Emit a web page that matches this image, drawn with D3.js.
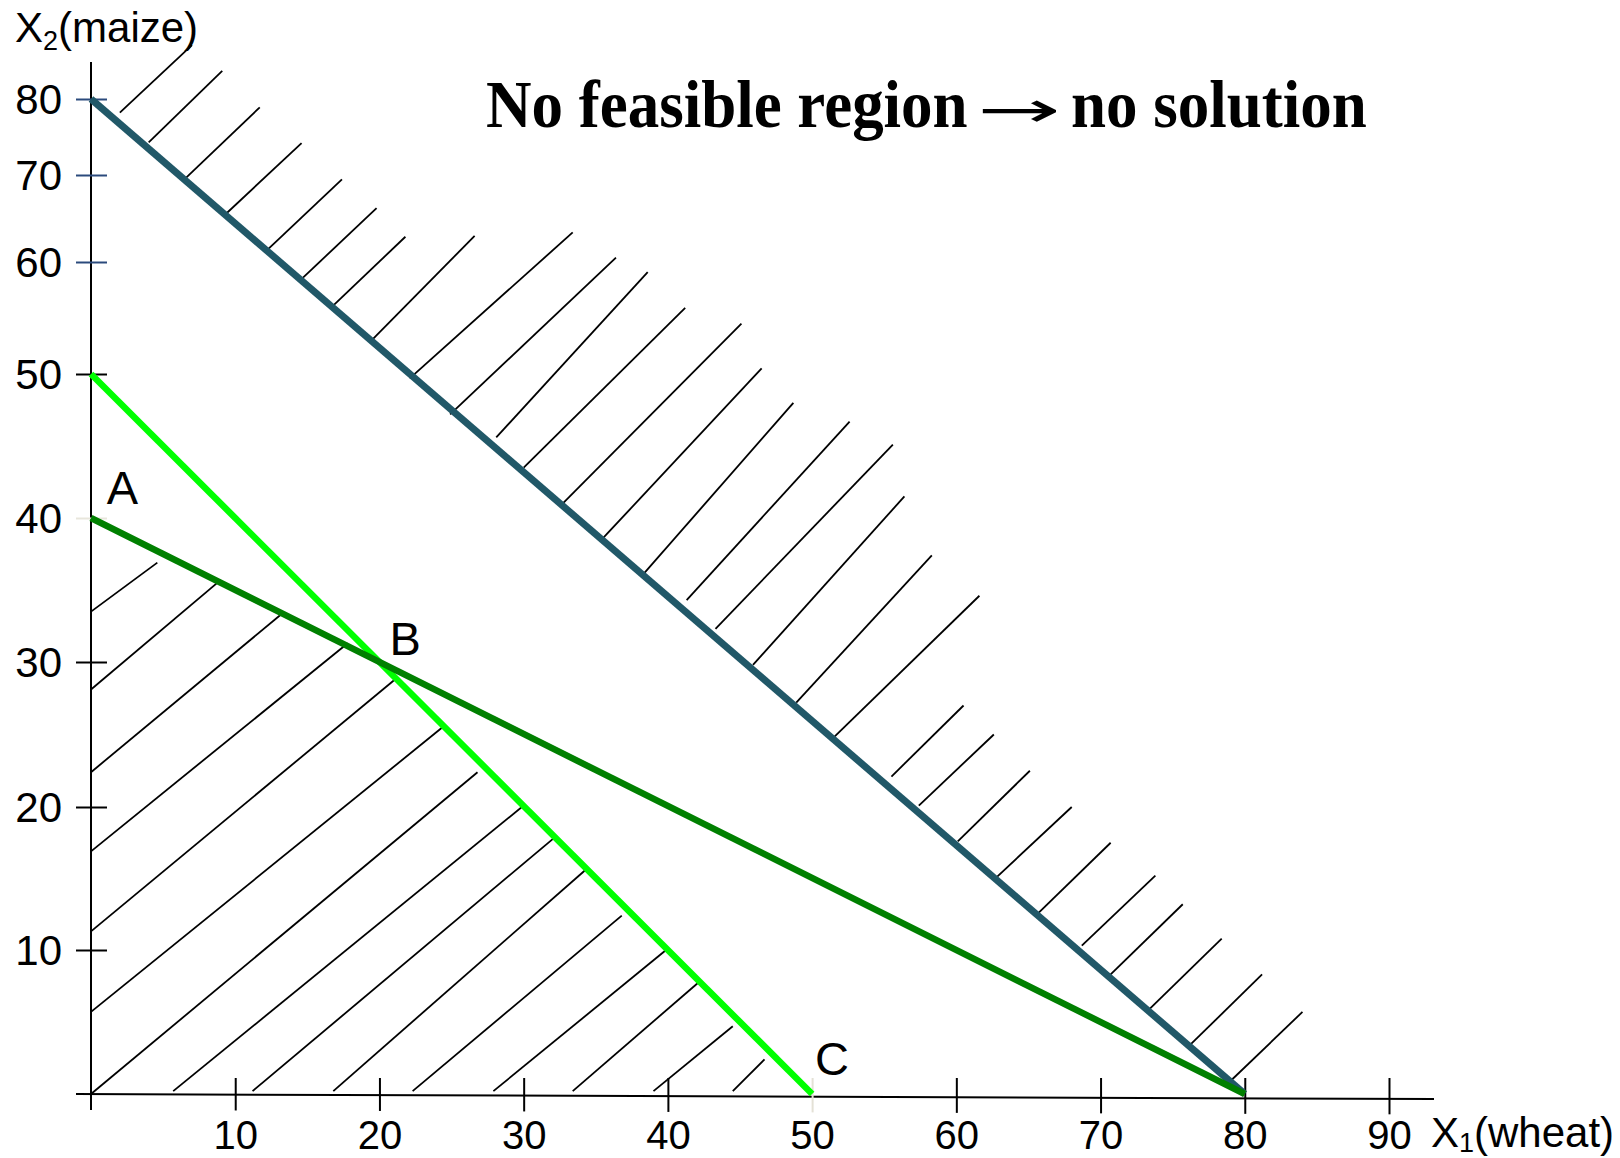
<!DOCTYPE html>
<html>
<head>
<meta charset="utf-8">
<script src="https://cdn.jsdelivr.net/npm/d3@7"></script>
<style>
html, body { margin: 0; padding: 0; background: #ffffff; }
svg { display: block; }
</style>
</head>
<body>
<svg id="chart" width="1620" height="1158"></svg>
<script>
// ---------------- data ----------------
const xTickValues = [10, 20, 30, 40, 50, 60, 70, 80, 90];
const yTickValues = [10, 20, 30, 40, 50, 60, 70, 80];

const titleParts = ["No feasible region", "\u2192", "no solution"];
const xTitleMain = "X", xTitleSub = "1", xTitleRest = "(wheat)";
const yTitleMain = "X", yTitleSub = "2", yTitleRest = "(maize)";

// constraint lines (intercepts on the axes)
const constraintNames = ["x1 + x2 \u2265 80", "x1 + x2 \u2264 50", "x1 + 2x2 \u2264 80"];
const constraintX = [[0, 80], [0, 50], [0, 80]];
const constraintY = [[80, 0], [50, 0], [40, 0]];

// corner-point labels
const pointNames = ["A", "B", "C"];
const pointX = [1.1, 20.7, 50.2];
const pointY = [41.0, 30.5, 1.3];

// hatching above the x1 + x2 >= 80 line (data units)
const upperHatchX1 = [2.0, 4.0, 6.6, 9.4, 12.3, 14.7, 16.7, 19.3, 22.1, 24.9, 28.1, 30.0, 32.7, 35.5, 38.3, 41.3, 43.3, 45.9, 48.9, 51.5, 55.5, 57.4, 60.1, 62.8, 65.7, 68.7, 70.7, 73.3, 76.1, 78.9];
const upperHatchY1 = [78.2, 74.3, 69.7, 65.6, 61.5, 58.6, 56.0, 52.8, 49.7, 47.2, 45.6, 43.5, 41.0, 38.6, 36.1, 34.3, 32.3, 29.8, 27.2, 24.8, 22.1, 20.1, 17.6, 15.1, 12.6, 10.3, 8.3, 5.8, 3.3, 0.8];
const upperHatchX2 = [7.0, 9.1, 11.7, 14.6, 17.4, 19.8, 21.8, 26.6, 33.4, 36.4, 38.6, 41.2, 45.1, 46.5, 48.7, 52.6, 55.6, 56.4, 58.3, 61.6, 60.5, 62.6, 65.1, 68.0, 70.7, 73.8, 75.7, 78.4, 81.2, 84.0];
const upperHatchY2 = [87.1, 83.7, 78.9, 74.2, 69.5, 66.2, 62.9, 63.0, 63.4, 60.5, 59.1, 55.9, 54.5, 50.5, 48.0, 46.7, 45.1, 41.5, 37.4, 34.6, 27.0, 25.0, 22.5, 20.0, 17.5, 15.2, 13.2, 10.8, 8.3, 5.7];

// hatching of the region below both "<=" lines (data units)
const lowerHatchX1 = [0, 0, 0, 0, 0, 0, 0, 5.7, 11.2, 16.8, 22.3, 27.9, 33.4, 39.0, 44.5];
const lowerHatchY1 = [33.5, 28.1, 22.4, 16.9, 11.3, 5.7, 0, 0.2, 0.2, 0.2, 0.2, 0.2, 0.2, 0.2, 0.2];
const lowerHatchX2 = [4.6, 9.0, 13.3, 17.8, 21.2, 24.5, 26.8, 30.0, 32.3, 34.4, 36.8, 40.0, 42.3, 44.5, 46.7];
const lowerHatchY2 = [36.9, 35.7, 33.4, 31.3, 28.9, 25.6, 22.4, 20.1, 18.0, 15.7, 12.4, 10.1, 7.9, 4.7, 2.4];

// ---------------- drawing ----------------
const svg = d3.select("#chart");
svg.append("rect").attr("width", 1620).attr("height", 1158).attr("fill", "#ffffff");

const sansFont = "Arial, 'Liberation Sans', Helvetica, sans-serif";
const serifFont = "'Times New Roman', 'Liberation Serif', serif";

const x = d3.scaleLinear().domain([0, 90]).range([91, 1389]);
// the original axis is hand-spaced: equal steps up to 50, compressed above
const y = d3.scaleLinear()
  .domain([0].concat(yTickValues))
  .range([1094, 950, 807, 662, 518, 374, 262, 175, 99]);

// hatching
const hatchG = svg.append("g").attr("stroke", "#000").attr("stroke-width", 1.8).attr("stroke-linecap", "butt");
hatchG.selectAll("line.up").data(upperHatchX1).join("line")
  .attr("class", "up")
  .attr("x1", (d, i) => x(upperHatchX1[i]))
  .attr("y1", (d, i) => y(upperHatchY1[i]))
  .attr("x2", (d, i) => x(upperHatchX2[i]))
  .attr("y2", (d, i) => y(upperHatchY2[i]));
hatchG.selectAll("line.low").data(lowerHatchX1).join("line")
  .attr("class", "low")
  .attr("x1", (d, i) => x(lowerHatchX1[i]))
  .attr("y1", (d, i) => y(lowerHatchY1[i]))
  .attr("x2", (d, i) => x(lowerHatchX2[i]))
  .attr("y2", (d, i) => y(lowerHatchY2[i]));

// axis lines
const axisG = svg.append("g");
axisG.append("line")
  .attr("x1", x(0)).attr("x2", x(0))
  .attr("y1", y(0) + 16).attr("y2", y(80) - 37)
  .attr("stroke", "#000").attr("stroke-width", 2);
axisG.append("line")
  .attr("x1", x(0) - 15).attr("x2", x(90) + 45)
  .attr("y1", y(0)).attr("y2", y(0) + 5)
  .attr("stroke", "#000").attr("stroke-width", 2);

// tick colours (as in the original slide)
const yTickColor = v => (v >= 60 ? "#2B4A7C" : (v === 40 ? "#E8E6DC" : "#000000"));
const xTickColor = v => (v === 50 ? "#E4E1D6" : "#000000");

// y axis
const yAxis = d3.axisLeft(y).tickValues(yTickValues).tickSizeInner(15).tickSizeOuter(0)
  .tickPadding(14).tickFormat(d3.format("d"));
const gy = svg.append("g").attr("transform", `translate(${x(0)},0)`).call(yAxis);
gy.select(".domain").remove();
gy.attr("font-family", sansFont).attr("font-size", 42);
gy.selectAll(".tick line").attr("x1", 16).attr("stroke", d => yTickColor(d)).attr("stroke-width", 2);
gy.selectAll(".tick text").attr("fill", "#000").attr("dy", "0.35em");

// x axis
const xAxis = d3.axisBottom(x).tickValues(xTickValues).tickSizeInner(16).tickSizeOuter(0)
  .tickPadding(11).tickFormat(d3.format("d"));
const gx = svg.append("g").attr("transform", `translate(0,${y(0)})`).call(xAxis);
gx.select(".domain").remove();
gx.attr("font-family", sansFont).attr("font-size", 40);
gx.selectAll(".tick line").attr("y1", d => -16).attr("y2", d => 16 + (x(d) - x(0)) / 300)
  .attr("stroke", d => xTickColor(d)).attr("stroke-width", 2);
gx.selectAll(".tick text").attr("fill", "#000");

// constraint lines
const lineColors = ["#215868", "#00FF00", "#008000"];
const lineWidths = [7, 6.5, 6.5];
svg.append("g").selectAll("line").data(constraintNames).join("line")
  .attr("x1", (d, i) => x(constraintX[i][0]))
  .attr("y1", (d, i) => y(constraintY[i][0]))
  .attr("x2", (d, i) => x(constraintX[i][1]))
  .attr("y2", (d, i) => y(constraintY[i][1]))
  .attr("stroke", (d, i) => lineColors[i])
  .attr("stroke-width", (d, i) => lineWidths[i])
  .attr("stroke-linecap", "butt");

// point labels
svg.append("g").selectAll("text").data(pointNames).join("text")
  .attr("x", (d, i) => x(pointX[i]))
  .attr("y", (d, i) => y(pointY[i]))
  .attr("font-family", sansFont).attr("font-size", 47).attr("fill", "#000")
  .text(d => d);

// axis titles
const yt = svg.append("text").attr("x", 15).attr("y", 42)
  .attr("font-family", sansFont).attr("font-size", 42).attr("fill", "#000");
yt.append("tspan").text(yTitleMain);
yt.append("tspan").attr("font-size", 27).attr("dy", 8).text(yTitleSub);
yt.append("tspan").attr("dy", -8).text(yTitleRest);

const xt = svg.append("text").attr("x", 1431).attr("y", 1147)
  .attr("font-family", sansFont).attr("font-size", 42).attr("fill", "#000");
xt.append("tspan").text(xTitleMain);
xt.append("tspan").attr("font-size", 27).attr("dy", 5).text(xTitleSub);
xt.append("tspan").attr("dy", -5).text(xTitleRest);

// title: tall, narrow bold serif; the arrow is a separate, stretched glyph
const titleX = [486, 977, 1071];
const titleFonts = [serifFont, "'DejaVu Sans', sans-serif", serifFont];
const titleWeights = ["bold", "normal", "bold"];
const titleSizes = [63, 50, 63];
const titleScaleX = [1, 2, 1];
const titleScaleY = [1.08, 1, 1.08];
svg.append("g").selectAll("text").data(titleParts).join("text")
  .attr("transform", (d, i) => `translate(${titleX[i]},127) scale(${titleScaleX[i]},${titleScaleY[i]})`)
  .attr("x", 0).attr("y", 0)
  .attr("font-family", (d, i) => titleFonts[i])
  .attr("font-weight", (d, i) => titleWeights[i])
  .attr("font-size", (d, i) => titleSizes[i])
  .attr("fill", "#000")
  .text(d => d);
</script>
</body>
</html>
